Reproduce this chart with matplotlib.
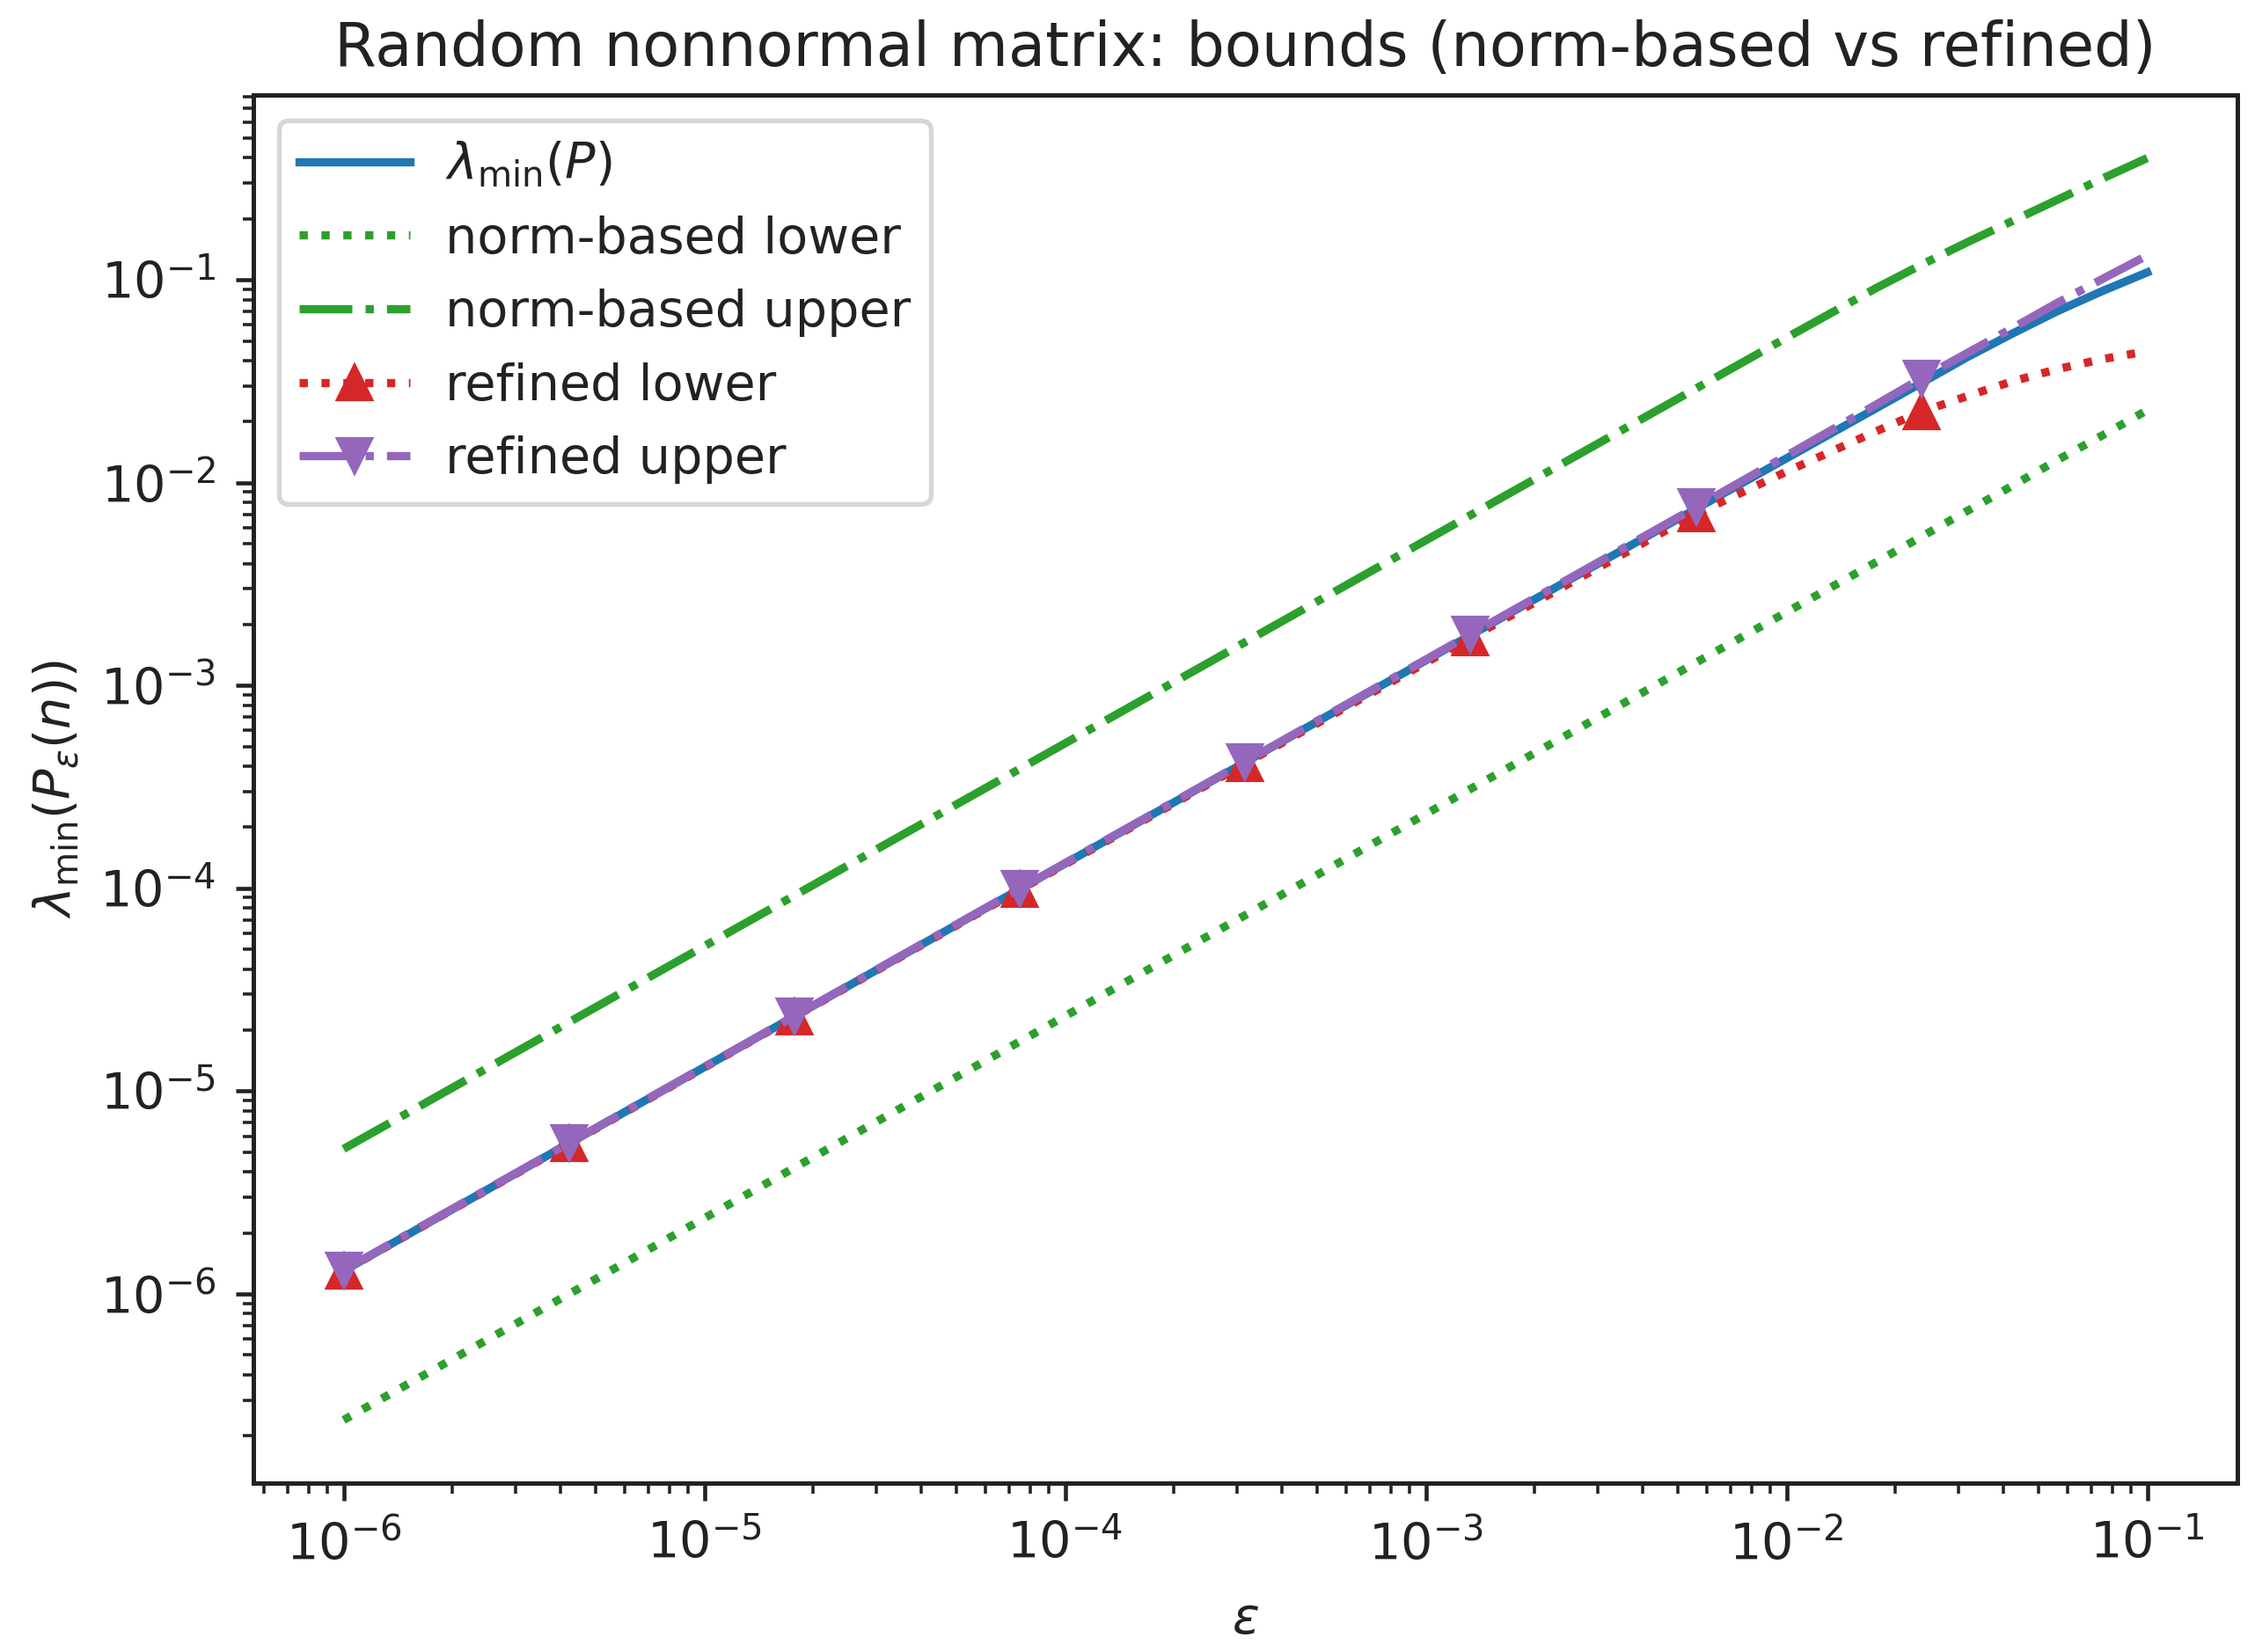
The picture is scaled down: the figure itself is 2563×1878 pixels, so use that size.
import numpy as np
import matplotlib
matplotlib.use("Agg")
import matplotlib.pyplot as plt

plt.rcParams['font.family'] = ['DejaVu Sans']
plt.rcParams['mathtext.fontset'] = 'dejavusans'
plt.rcParams['text.color'] = '#222222'
plt.rcParams['axes.labelcolor'] = '#222222'
plt.rcParams['xtick.color'] = '#222222'
plt.rcParams['ytick.color'] = '#222222'
plt.rcParams['axes.edgecolor'] = '#222222'

# epsilon grid (markers sit on indices 0-6 and 9)
eps = [1.00e-6, 4.22e-6, 1.78e-5, 7.50e-5, 3.16e-4, 1.33e-3, 5.62e-3,
       1.00e-2, 1.78e-2, 2.37e-2, 3.16e-2, 4.22e-2, 5.62e-2, 7.50e-2, 1.00e-1]
marker_idx = [0, 1, 2, 3, 4, 5, 6, 9]

lam_min = [1.30e-6, 5.53e-6, 2.34e-5, 9.93e-5, 4.19e-4, 1.77e-3, 7.45e-3,
           1.32e-2, 2.34e-2, 3.11e-2, 4.15e-2, 5.43e-2, 7.00e-2, 8.81e-2, 0.109]
norm_lower = [2.39e-7, 1.00e-6, 4.20e-6, 1.76e-5, 7.38e-5, 3.09e-4, 1.30e-3,
              2.30e-3, 4.08e-3, 5.43e-3, 7.24e-3, 9.64e-3, 1.29e-2, 1.71e-2, 2.28e-2]
norm_upper = [5.19e-6, 2.19e-5, 9.23e-5, 3.89e-4, 1.64e-3, 6.92e-3, 2.92e-2,
              5.19e-2, 9.16e-2, 0.119, 0.153, 0.195, 0.248, 0.316, 0.399]
ref_lower = [1.30e-6, 5.50e-6, 2.33e-5, 9.85e-5, 4.13e-4, 1.72e-3, 7.03e-3,
             1.135e-2, 1.80e-2, 2.24e-2, 2.67e-2, 3.16e-2, 3.63e-2, 4.07e-2, 4.45e-2]
ref_upper = [1.31e-6, 5.55e-6, 2.35e-5, 9.98e-5, 4.22e-4, 1.79e-3, 7.59e-3,
             1.36e-2, 2.44e-2, 3.28e-2, 4.35e-2, 5.78e-2, 7.69e-2, 0.101, 0.132]

fig = plt.figure(figsize=(2563 / 300, 1878 / 300), dpi=300)
ax = fig.add_axes([288 / 2563, 1 - 1686 / 1878, (2543 - 288) / 2563, (1686 - 108) / 1878])

lw, ms = 2.25, 9
ax.plot(eps, lam_min, color='#1f77b4', lw=lw, label=r'$\lambda_{\min}(P)$')
ax.plot(eps, norm_lower, ':', color='#2ca02c', lw=lw, label='norm-based lower')
ax.plot(eps, norm_upper, '-.', color='#2ca02c', lw=lw, label='norm-based upper')
ax.plot(eps, ref_lower, ':', color='#d62728', lw=lw, marker='^', ms=ms,
        markevery=marker_idx, label='refined lower')
ax.plot(eps, ref_upper, '-.', color='#9467bd', lw=lw, marker='v', ms=ms,
        markevery=marker_idx, label='refined upper')

ax.set_xscale('log')
ax.set_yscale('log')
for s in ax.spines.values():
    s.set_linewidth(1.2)
ax.tick_params(which='major', length=4.9, width=1.1, labelsize=13.75, pad=5.3)
ax.tick_params(which='minor', length=2.8, width=0.85)
ax.set_xlabel(r'$\varepsilon$', fontsize=13.75, labelpad=7)
ax.set_ylabel(r'$\lambda_{\min}(P_\varepsilon(n))$', fontsize=13.75, labelpad=5)
ax.set_title('Random nonnormal matrix: bounds (norm-based vs refined)',
             fontsize=16.5, pad=8)
leg = ax.legend(loc='upper left', fontsize=13.75, handlelength=2.2,
                handletextpad=0.7, borderaxespad=0.5)
leg.get_frame().set_linewidth(1.3)

fig.savefig('out.png', dpi=300)
